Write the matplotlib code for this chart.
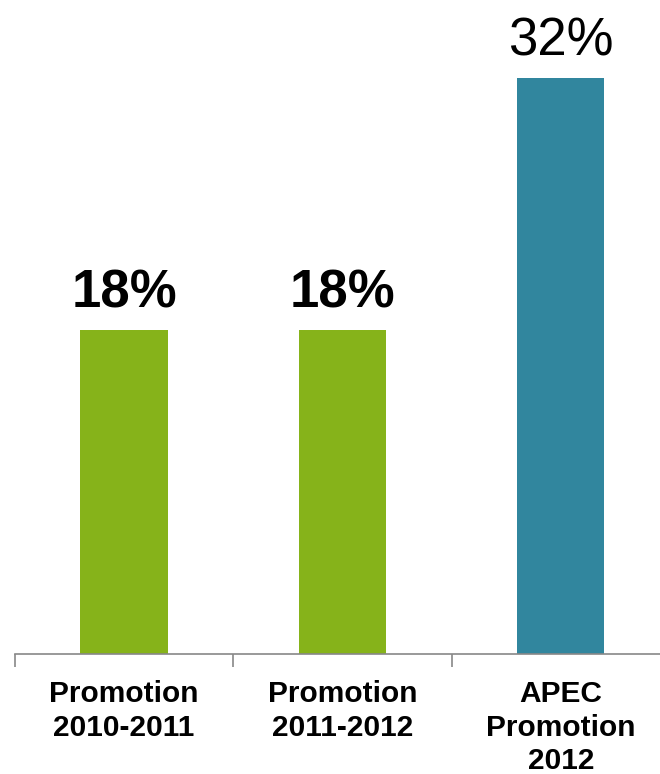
import matplotlib
matplotlib.use("Agg")
import matplotlib.pyplot as plt

categories = ["Promotion\n2010-2011", "Promotion\n2011-2012", "APEC\nPromotion\n2012"]
values = [18, 18, 32]
labels = ["18%", "18%", "32%"]
label_bold = [True, True, False]
colors = ["#86b31a", "#86b31a", "#31869e"]

plt.rcParams['font.family'] = ['Liberation Sans', 'DejaVu Sans']

fig = plt.figure(figsize=(6.6, 7.74), dpi=100)
ax = fig.add_axes([15 / 660, 120 / 774, 655 / 660, 654 / 774])

xs = [i + 0.5 for i in range(len(values))]
ax.bar(xs, values, width=0.4, color=colors)
for x, v, lab, b in zip(xs, values, labels, label_bold):
    ax.annotate(lab, (x, v), xytext=(0, 8), textcoords="offset points",
                ha="center", va="bottom", fontsize=38,
                fontweight="bold" if b else "normal")

ax.set_xlim(0, 3)
ax.set_ylim(0, 36.33)
ax.set_xticks([0, 1, 2, 3])
ax.set_xticklabels([])
ax.set_xticks(xs, minor=True)
ax.set_xticklabels(categories, minor=True, fontsize=21.5, fontweight="bold",
                   linespacing=1.25)
ax.tick_params(axis="x", which="major", length=9, color="#888888", width=1.2)
ax.tick_params(axis="x", which="minor", length=0, pad=19)
ax.set_yticks([])
for s in ["top", "right", "left"]:
    ax.spines[s].set_visible(False)
ax.spines["bottom"].set_color("#888888")
ax.spines["bottom"].set_linewidth(1.2)

fig.savefig("out.png", dpi=100)
